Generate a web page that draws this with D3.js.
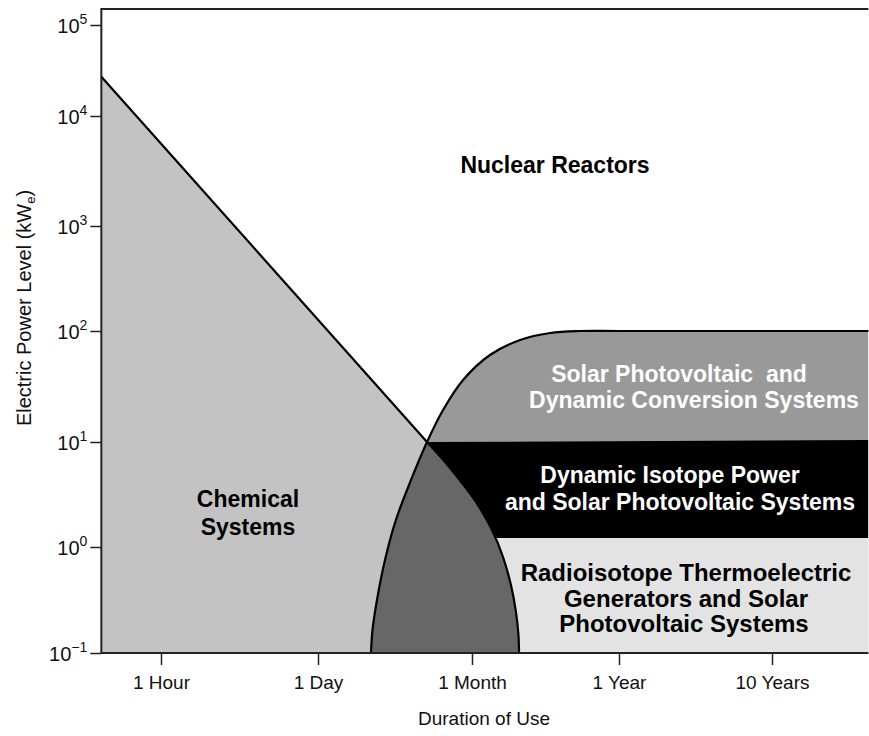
<!DOCTYPE html>
<html>
<head>
<meta charset="utf-8">
<script src="https://cdn.jsdelivr.net/npm/d3@7"></script>
<style>
  body { margin: 0; background: #fff; }
  text { font-family: "Liberation Sans", Arial, Helvetica, sans-serif; }
</style>
</head>
<body>
<svg id="chart" width="869" height="736"></svg>
<script>
// x axis categories, evenly spaced (durations below are in these tick units)
var durationTicks = ['1 Hour', '1 Day', '1 Month', '1 Year', '10 Years'];
// y axis decades, as powers of ten (kWe)
var powerTicks = [-1, 0, 1, 2, 3, 4, 5];

// boundaries: [duration (tick units), power (kWe)]
var chemicalLine = [[-0.38, 27000], [1.708, 10]];
var solarBoundary = [
  [1.344, 0.1], [1.354, 0.165], [1.383, 0.316], [1.435, 0.753], [1.506, 1.81],
  [1.604, 4.35], [1.708, 10], [1.812, 19.4], [1.942, 36.2], [2.122, 60.8],
  [2.327, 83.0], [2.531, 95.9], [2.735, 100], [3.0, 100], [4.0, 100], [4.63, 100]
];
var isotopeBoundary = [
  [1.708, 10], [1.825, 6.45], [1.935, 4.07], [2.041, 2.51], [2.136, 1.45],
  [2.211, 0.805], [2.265, 0.438], [2.299, 0.244], [2.316, 0.148], [2.32, 0.1]
];
var dynamicTop = [[1.708, 10], [4.63, 10.4]];
var rtgTop = 1.22;
var durationRange = [-0.38, 4.63];
var powerRange = [0.1, 150000];

var svg = d3.select('#chart');

// tick positions on screen (the original axes are not strictly uniform)
var x = d3.scaleLinear().domain([0, 1, 2, 3, 4]).range([161, 318, 472, 619, 772]);
var yExp = d3.scaleLinear().domain(powerTicks).range([653, 547, 442, 331, 226, 116, 25]);
var y = function(v) { return yExp(Math.log10(v)); };

var xl = durationRange[0], xr = durationRange[1];
var bottom = powerRange[0];

var line = d3.line().x(function(d) { return x(d[0]); }).y(function(d) { return y(d[1]); });
var curve = d3.line()
  .x(function(d) { return x(d[0]); })
  .y(function(d) { return y(d[1]); })
  .curve(d3.curveCatmullRom.alpha(0.5));

// chemical systems, under the falling line
svg.append('path')
  .attr('d', line([chemicalLine[0], chemicalLine[1], [chemicalLine[1][0], bottom], [xl, bottom]]) + 'Z')
  .attr('fill', '#c3c3c3');

// everything to the right of the big arc
svg.append('clipPath').attr('id', 'arc-clip')
  .append('path')
  .attr('d', curve(solarBoundary) + 'L' + x(xr) + ',' + y(bottom) + 'Z');

var inner = svg.append('g').attr('clip-path', 'url(#arc-clip)');

// solar photovoltaic and dynamic conversion
inner.append('path')
  .attr('d', line([[xl, 100], [xr, 100], [xr, bottom], [xl, bottom]]) + 'Z')
  .attr('fill', '#999999');

// dynamic isotope power
inner.append('path')
  .attr('d', line([[xl, dynamicTop[0][1]], dynamicTop[0], dynamicTop[1], [xr, rtgTop], [xl, rtgTop]]) + 'Z')
  .attr('fill', '#000');

// radioisotope thermoelectric generators
inner.append('path')
  .attr('d', line([[xl, rtgTop], [xr, rtgTop], [xr, bottom], [xl, bottom]]) + 'Z')
  .attr('fill', '#e3e3e3');

// overlap zone between the two curves
inner.append('path')
  .attr('d', curve(isotopeBoundary) + 'L' + x(xl) + ',' + y(bottom) + 'L' + x(xl) + ',' + y(10) + 'Z')
  .attr('fill', '#676767');

// outlines
svg.append('path').attr('d', line(chemicalLine))
  .attr('fill', 'none').attr('stroke', '#000').attr('stroke-width', 2.2);
svg.append('path').attr('d', curve(solarBoundary))
  .attr('fill', 'none').attr('stroke', '#000').attr('stroke-width', 2.2);
svg.append('path').attr('d', curve(isotopeBoundary))
  .attr('fill', 'none').attr('stroke', '#000').attr('stroke-width', 2.2);

// frame: top, left and bottom edges
var yTop = y(powerRange[1]);
svg.append('path')
  .attr('d', 'M' + x(xr) + ',' + yTop + 'H' + x(xl) + 'V' + y(bottom) + 'H' + x(xr))
  .attr('fill', 'none').attr('stroke', '#222').attr('stroke-width', 2);

// x axis
var xAxis = svg.append('g')
  .attr('transform', 'translate(0,' + y(bottom) + ')')
  .call(d3.axisBottom(x)
    .tickValues(d3.range(durationTicks.length))
    .tickFormat(function(i) { return durationTicks[i]; })
    .tickSize(12)
    .tickPadding(11));
xAxis.select('.domain').remove();
xAxis.selectAll('line').attr('stroke', '#222').attr('stroke-width', 1.5);
xAxis.selectAll('text').attr('font-size', 19).attr('fill', '#111')
  .style('font-family', '"Liberation Sans", Arial, Helvetica, sans-serif');

// y axis
var yAxis = svg.append('g')
  .attr('transform', 'translate(' + x(xl) + ',0)')
  .call(d3.axisLeft(yExp).tickValues(powerTicks).tickSize(11).tickFormat(''));
yAxis.select('.domain').remove();
yAxis.selectAll('line').attr('stroke', '#222').attr('stroke-width', 1.5);
yAxis.selectAll('.tick').each(function(e) {
  var t = d3.select(this).select('text')
    .attr('x', -14).attr('dy', null).attr('y', 7)
    .attr('font-size', 20).attr('fill', '#111')
    .attr('text-anchor', 'end')
    .style('font-family', '"Liberation Sans", Arial, Helvetica, sans-serif');
  t.append('tspan').text('10');
  t.append('tspan').attr('dy', -9).attr('font-size', 14)
    .text(e < 0 ? '\u2212' + Math.abs(e) : String(e));
});

// axis titles
svg.append('text')
  .attr('x', 484).attr('y', 725)
  .attr('text-anchor', 'middle').attr('font-size', 19).attr('fill', '#111')
  .text('Duration of Use');

var ylab = svg.append('text')
  .attr('transform', 'translate(31,308) rotate(-90)')
  .attr('text-anchor', 'middle').attr('font-size', 20).attr('fill', '#111');
ylab.append('tspan').text('Electric Power Level (kW');
ylab.append('tspan').attr('font-size', 13).attr('dy', 4).text('e');
ylab.append('tspan').attr('dy', -4).text(')');

// region labels
var labels = [
  { lines: ['Nuclear Reactors'], xs: [555], y: 173, color: '#000', size: 23, gap: 0 },
  { lines: ['Chemical', 'Systems'], xs: [248, 248], y: 507, color: '#000', size: 23, gap: 28 },
  { lines: ['Solar Photovoltaic \u00a0and', 'Dynamic Conversion Systems'], xs: [679, 694], y: 382, color: '#fff', size: 23, gap: 26 },
  { lines: ['Dynamic Isotope Power', 'and Solar Photovoltaic Systems'], xs: [670, 680], y: 483, color: '#fff', size: 23, gap: 27 },
  { lines: ['Radioisotope Thermoelectric', 'Generators and Solar', 'Photovoltaic Systems'], xs: [686, 686, 684], y: 581, color: '#000', size: 24, gap: 25.5 }
];
labels.forEach(function(l) {
  l.lines.forEach(function(s, j) {
    svg.append('text')
      .attr('x', l.xs[j]).attr('y', l.y + j * l.gap)
      .attr('text-anchor', 'middle')
      .attr('font-size', l.size).attr('font-weight', 'bold')
      .attr('fill', l.color)
      .text(s);
  });
});
</script>
</body>
</html>
